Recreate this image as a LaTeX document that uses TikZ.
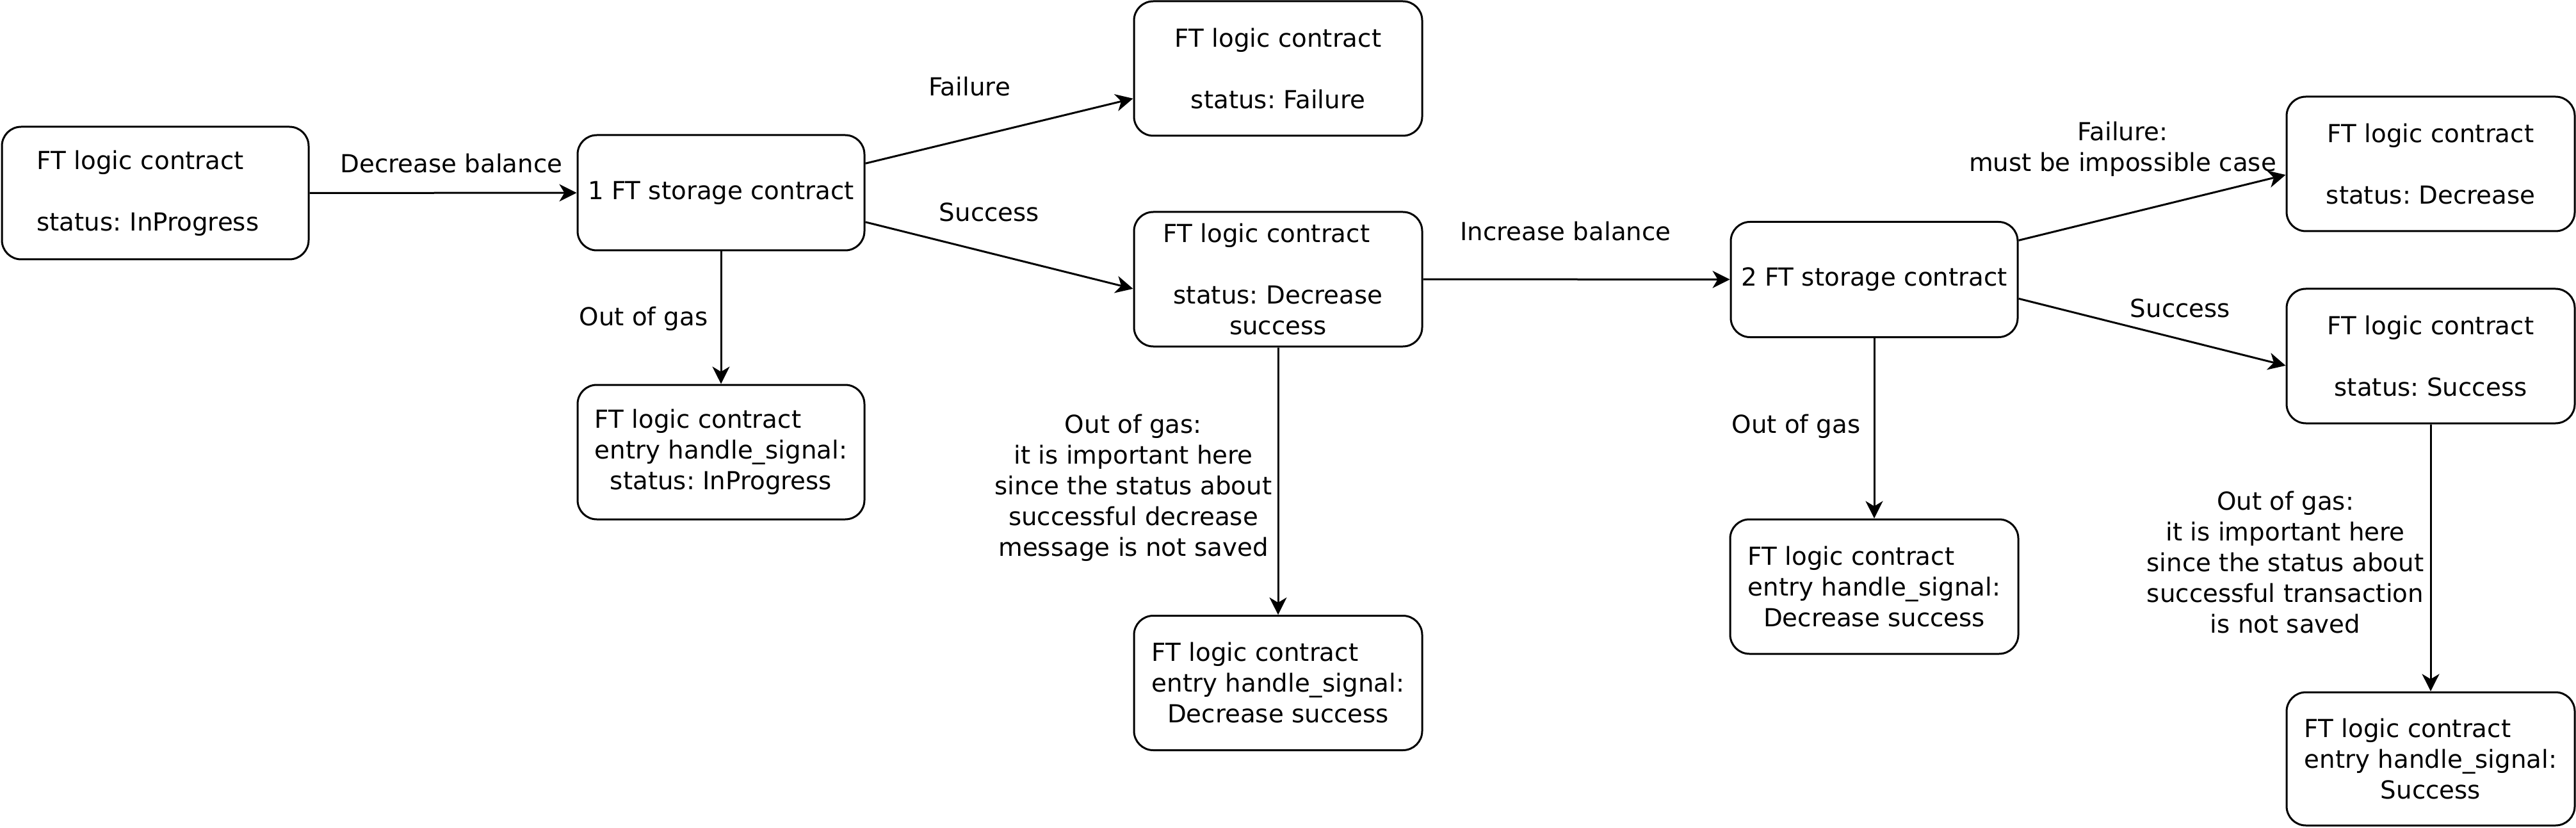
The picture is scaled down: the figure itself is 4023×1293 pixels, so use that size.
\documentclass[tikz,border=0pt]{standalone}
\usepackage{fontspec}
\setmainfont{DejaVu Sans}
\usetikzlibrary{arrows.meta,calc}
\frenchspacing
\begin{document}
\begin{tikzpicture}[x=0.25pt,y=-0.25pt,
  every node/.style={font=\fontsize{9.7pt}{12pt}\selectfont\frenchspacing},
  box/.style={draw, line width=0.75pt, rounded corners=7.5pt, minimum width=112.5pt,
    minimum height=52.5pt, inner sep=2pt, align=center},
  store/.style={box, minimum width=112pt, minimum height=45pt},
  lbl/.style={inner sep=0pt, align=center},
  arr/.style={-{Stealth[length=6.75pt,width=6.75pt,inset=2pt]}, line width=0.75pt}
]
\useasboundingbox (0,0) rectangle (4023,1293);

% boxes
\node[box, minimum width=119.75pt, minimum height=51.75pt, align=left, text width=92.5pt] (A) at (242.5,301.5)
  {FT logic contract\\[12pt]status: InProgress};
\node[store] (B) at (1126,301) {1 FT storage contract};
\node[box] (C) at (1996,107) {FT logic contract\\[12pt]status: Failure};
\node[box] (D) at (1996,436) {FT logic contract\rule{9pt}{0pt}\\[12pt]status: Decrease\\success};
\node[box, minimum width=112pt] (F) at (1126,706)
  {\rlap{FT logic contract}\phantom{entry handle\_signal:}\\entry handle\_signal:\\status: InProgress};
\node[box] (G) at (1996,1066.5)
  {\rlap{FT logic contract}\phantom{entry handle\_signal:}\\entry handle\_signal:\\Decrease success};
\node[store] (E) at (2927,436.5) {2 FT storage contract};
\node[box] (H) at (2927,916)
  {\rlap{FT logic contract}\phantom{entry handle\_signal:}\\entry handle\_signal:\\Decrease success};
\node[box] (I) at (3796,256) {FT logic contract\\[12pt]status: Decrease};
\node[box] (J) at (3796,556) {FT logic contract\\[12pt]status: Success};
\node[box, minimum height=52pt] (K) at (3796,1185)
  {\rlap{FT logic contract}\phantom{entry handle\_signal:}\\entry handle\_signal:\\Success};

% connectors
\draw[arr] (A) -- (B);
\draw[arr] ($(B.north east)!0.25!(B.south east)$) -- ($(C.north west)!0.72!(C.south west)$);
\draw[arr] ($(B.north east)!0.75!(B.south east)$) -- ($(D.north west)!0.57!(D.south west)$);
\draw[arr] (B) -- (F);
\draw[arr] (D) -- (E);
\draw[arr] (D) -- (G);
\draw[arr] (E) -- (H);
\draw[arr] ($(E.north east)!0.166!(E.south east)$) -- ($(I.north west)!0.58!(I.south west)$);
\draw[arr] ($(E.north east)!0.663!(E.south east)$) -- ($(J.north west)!0.57!(J.south west)$);
\draw[arr] (J) -- (K);

% labels
\node[lbl, anchor=base] (l1) at (705,270) {Decrease balance};
\node[lbl, anchor=base] (l2) at (1514,150) {Failure};
\node[lbl, anchor=base] (l3) at (1545,346) {Success};
\node[lbl, anchor=base] (l4) at (1005,509) {Out of gas};
\node[lbl] (l5) at (1770,762) {Out of gas:\\it is important here\\since the status about\\successful decrease\\message is not saved};
\node[lbl, anchor=base] (l6) at (2445,376) {Increase balance};
\node[lbl, anchor=base] (l7) at (2805,676) {Out of gas};
\node[lbl] (l8) at (3315,233) {Failure:\\must be impossible case};
\node[lbl, anchor=base] (l9) at (3405,496) {Success};
\node[lbl] (l10) at (3569,878) {Out of gas:\\it is important here\\since the status about\\successful transaction\\is not saved};
\end{tikzpicture}
\end{document}
